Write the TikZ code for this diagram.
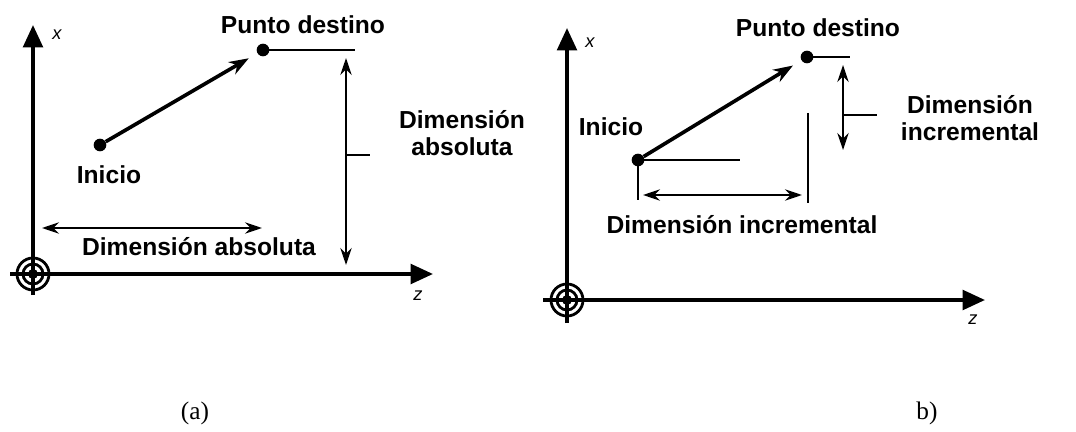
\documentclass[tikz,border=0pt]{standalone}
\usepackage{fontspec}
\setmainfont{Liberation Serif}
\newfontfamily\labfont{Liberation Sans}
\usetikzlibrary{arrows.meta}

\begin{document}
\begin{tikzpicture}[x=0.025cm,y=-0.025cm,
    lbl/.style={font=\labfont\bfseries\fontsize{17.5}{19}\selectfont,align=center,inner sep=0pt},
    axlbl/.style={font=\labfont\itshape\fontsize{13}{14}\selectfont,inner sep=0pt},
    axis/.style={line width=2.6pt,-{Triangle[length=16pt,width=14pt]}},
    move/.style={line width=2.6pt,-{Stealth[length=14pt,width=10pt]},shorten >=7pt},
    dim/.style={line width=1.8pt,{Stealth[length=12pt,width=8pt]}-{Stealth[length=12pt,width=8pt]}},
    ext/.style={line width=1pt},
    dot/.style={circle,fill,inner sep=0pt,minimum size=9pt}]
  \useasboundingbox (0,0) rectangle (1076,432);

  % (a) absolute
  \coordinate (oa) at (33,274);
  \coordinate (xa0) at (33,295);  \coordinate (xa) at (33,25);
  \coordinate (za0) at (10,274);  \coordinate (za) at (433,274);
  \draw[axis] (xa0) -- (xa);
  \draw[axis] (za0) -- (za);
  \draw[line width=2pt] (oa) circle (16) (oa) circle (10);
  \fill (oa) circle (5);
  \node[axlbl] (xla) at (57,35) {x};
  \node[axlbl] (zla) at (418,296) {z};

  \node[dot] (inia) at (100,145) {};
  \node[dot] (dsta) at (263,50) {};
  \draw[move] (inia) -- (dsta);
  \node[lbl] (tinia) at (109,175) {Inicio};
  \node[lbl] (tdsta) at (303,25) {Punto destino};

  \coordinate (ea) at (355,50);
  \draw[ext] (dsta.center) -- (ea);
  \coordinate (va1) at (346,58);  \coordinate (va2) at (346,265);
  \draw[dim] (va1) -- (va2);
  \coordinate (ta1) at (346,155); \coordinate (ta2) at (370,155);
  \draw[ext] (ta1) -- (ta2);
  \node[lbl] (tva) at (462,133) {Dimensión\\absoluta};

  \coordinate (ha1) at (42,228);  \coordinate (ha2) at (262,228);
  \draw[dim] (ha1) -- (ha2);
  \node[lbl] (tha) at (199,247) {Dimensión absoluta};

  % (b) incremental
  \coordinate (ob) at (567,300);
  \coordinate (xb0) at (567,323); \coordinate (xb) at (567,28);
  \coordinate (zb0) at (543,300); \coordinate (zb) at (985,300);
  \draw[axis] (xb0) -- (xb);
  \draw[axis] (zb0) -- (zb);
  \draw[line width=2pt] (ob) circle (16) (ob) circle (10);
  \fill (ob) circle (5);
  \node[axlbl] (xlb) at (590,43) {x};
  \node[axlbl] (zlb) at (973,320) {z};

  \node[dot] (inib) at (638,160) {};
  \node[dot] (dstb) at (807,57) {};
  \draw[move] (inib) -- (dstb);
  \node[lbl] (tinib) at (611,127) {Inicio};
  \node[lbl] (tdstb) at (818,28) {Punto destino};

  \coordinate (eb) at (850,57);
  \draw[ext] (dstb.center) -- (eb);
  \coordinate (vb1) at (843,65);  \coordinate (vb2) at (843,150);
  \draw[dim] (vb1) -- (vb2);
  \coordinate (tb1) at (843,115); \coordinate (tb2) at (877,115);
  \draw[ext] (tb1) -- (tb2);
  \node[lbl] (tvb) at (970,118) {Dimensión\\incremental};

  \coordinate (hb0) at (740,160); \coordinate (db0) at (638,200);
  \draw[ext] (inib.center) -- (hb0);
  \draw[ext] (inib.center) -- (db0);
  \coordinate (lb1) at (808,113); \coordinate (lb2) at (808,203);
  \draw[ext] (lb1) -- (lb2);
  \coordinate (hb1) at (643,195); \coordinate (hb2) at (802,195);
  \draw[dim] (hb1) -- (hb2);
  \node[lbl] (thb) at (742,225) {Dimensión incremental};

  \node[font=\fontsize{18}{20}\selectfont] (capa) at (195,413) {(a)};
  \node[font=\fontsize{18}{20}\selectfont] (capb) at (927,413) {b)};
\end{tikzpicture}
\end{document}
